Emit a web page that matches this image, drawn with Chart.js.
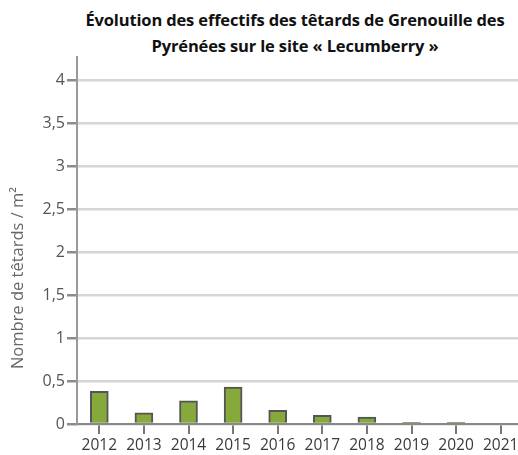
<!DOCTYPE html>
<html lang="fr">
<head>
<meta charset="utf-8">
<script src="https://cdn.jsdelivr.net/npm/chart.js@4"></script>
<style>
  html, body { margin: 0; padding: 0; background: #fff; overflow: hidden; }
  #wrap { position: relative; width: 518px; height: 455px; overflow: hidden; }
  #title {
    position: absolute; left: 70px; top: 7px; width: 450px;
    text-align: center; font: 700 16.5px "Open Sans", sans-serif;
    line-height: 26px; color: #111; letter-spacing: -0.15px;
  }
  #box { position: absolute; left: 0; top: 0; width: 530px; height: 455px; }
</style>
</head>
<body>
<div id="wrap">
  <div id="title">Évolution des effectifs des têtards de Grenouille des<br>Pyrénées sur le site « Lecumberry »</div>
  <div id="box"><canvas id="chart"></canvas></div>
</div>
<script>
  const years = ["2012", "2013", "2014", "2015", "2016", "2017", "2018", "2019", "2020", "2021"];
  const tadpoles = [0.38, 0.13, 0.27, 0.43, 0.16, 0.10, 0.08, 0.02, 0.02, 0];
  const yTicks = [0, 0.5, 1, 1.5, 2, 2.5, 3, 3.5, 4];
  const yLabel = "Nombre de têtards / m²";

  const fmt = v => String(v).replace(".", ",");

  // rotated y-axis title, sitting a bit below the middle of the plot
  const yTitle = {
    id: "yTitle",
    afterDraw(chart) {
      const ctx = chart.ctx;
      ctx.save();
      ctx.translate(18, 278);
      ctx.rotate(-Math.PI / 2);
      ctx.font = '16.5px "Open Sans", sans-serif';
      ctx.fillStyle = "#666";
      ctx.textAlign = "center";
      ctx.textBaseline = "middle";
      ctx.fillText(yLabel, 0, 0);
      ctx.restore();
    }
  };

  new Chart(document.getElementById("chart"), {
    type: "bar",
    data: {
      labels: years,
      datasets: [{
        data: tadpoles,
        backgroundColor: "#86a93b",
        borderColor: "#555",
        borderWidth: 2,
        barThickness: 18
      }]
    },
    options: {
      responsive: true,
      maintainAspectRatio: false,
      animation: false,
      layout: { padding: { top: 57, right: 7, left: 0, bottom: 0 } },
      plugins: { legend: { display: false }, tooltip: { enabled: false } },
      scales: {
        x: {
          afterFit: s => { s.height = 31; },
          grid: { drawOnChartArea: false, offset: false, tickLength: 10, tickColor: "#777", lineWidth: 2 },
          border: { color: "#888", width: 2 },
          ticks: { color: "#3a3a3a", padding: 2, font: { family: "Open Sans", size: 15.5 } }
        },
        y: {
          min: 0,
          max: 4.27,
          afterFit: s => { s.width = 77; },
          afterBuildTicks: s => { s.ticks = yTicks.map(v => ({ value: v })); },
          grid: { color: "#d6d6d6", lineWidth: 2.5, tickLength: 10, tickColor: "#8c8c8c" },
          border: { color: "#999", width: 2 },
          ticks: { color: "#555", padding: 2, font: { family: "Open Sans", size: 16 }, callback: v => fmt(v) }
        }
      }
    },
    plugins: [yTitle]
  });
</script>
</body>
</html>
